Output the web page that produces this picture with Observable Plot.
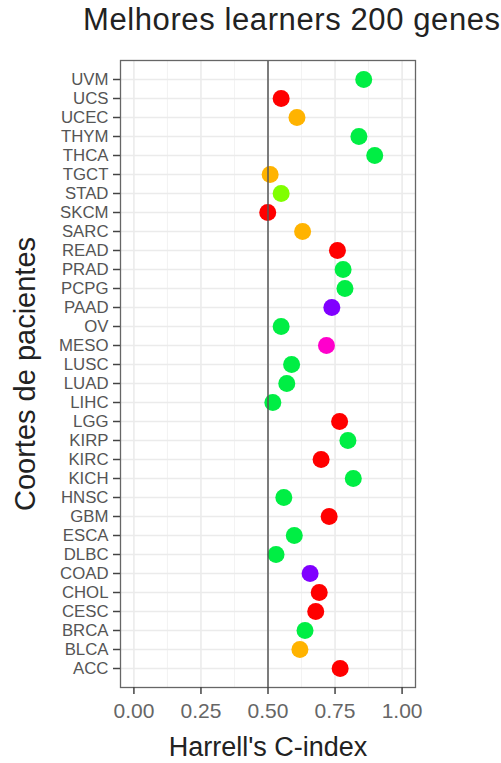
<!DOCTYPE html>
<html><head><meta charset="utf-8">
<script src="https://cdn.jsdelivr.net/npm/d3@7"></script>
<script src="https://cdn.jsdelivr.net/npm/@observablehq/plot@0.6"></script>
<style>
body{margin:0;background:#fff;font-family:"Liberation Sans",Arial,sans-serif;}
#title{height:40px;line-height:40px;font-size:31px;color:#222;padding-left:83px;white-space:nowrap;letter-spacing:0.6px;}
</style></head><body>
<div id="title">Melhores learners 200 genes</div>
<div id="chart"></div>
<script>
const cohorts = ["UVM","UCS","UCEC","THYM","THCA","TGCT","STAD","SKCM","SARC","READ","PRAD","PCPG","PAAD","OV","MESO","LUSC","LUAD","LIHC","LGG","KIRP","KIRC","KICH","HNSC","GBM","ESCA","DLBC","COAD","CHOL","CESC","BRCA","BLCA","ACC"];
const cindex = [0.857,0.549,0.608,0.839,0.898,0.508,0.549,0.499,0.629,0.759,0.780,0.787,0.738,0.549,0.718,0.588,0.570,0.518,0.767,0.798,0.698,0.818,0.559,0.728,0.598,0.530,0.657,0.691,0.678,0.638,0.619,0.769];
const learnerGroup = ["verde","vermelho","laranja","verde","verde","laranja","lima","vermelho","laranja","vermelho","verde","verde","roxo","verde","magenta","verde","verde","verde","vermelho","verde","vermelho","verde","verde","vermelho","verde","verde","roxo","vermelho","vermelho","verde","laranja","vermelho"];
const groupDomain = ["vermelho","laranja","lima","verde","roxo","magenta"];
const groupColors = ["#FF0000","#FFB300","#80FF00","#00EE44","#8000FF","#FF00CC"];
const xTicks = [0, 0.25, 0.5, 0.75, 1];
const xTickLabels = ["0.00","0.25","0.50","0.75","1.00"];
const xMinor = [0.125, 0.375, 0.625, 0.875];
const refLine = [0.5];
const xTitle = "Harrell's C-index";
const yTitle = "Coortes de pacientes";

const data = cohorts.map((c, i) => ({cohort: c, cindex: cindex[i], group: learnerGroup[i]}));

const plot = Plot.plot({
  width: 501, height: 723,
  marginTop: 20, marginBottom: 76, marginLeft: 120, marginRight: 86,
  style: {fontFamily: "Liberation Sans, Arial, sans-serif", background: "#fff"},
  x: {domain: [-0.05, 1.05]},
  y: {type: "point", domain: cohorts, padding: 0.6},
  color: {domain: groupDomain, range: groupColors},
  marks: [
    Plot.ruleX(xMinor, {stroke: "#F3F3F3", strokeWidth: 1}),
    Plot.ruleX(xTicks, {stroke: "#EBEBEB", strokeWidth: 1.6}),
    Plot.ruleY(cohorts, {y: d => d, stroke: "#EBEBEB", strokeWidth: 1.6}),
    Plot.dot(data, {x: "cindex", y: "cohort", fill: "group", r: 8.5}),
    Plot.ruleX(refLine, {stroke: "#555", strokeOpacity: 0.75, strokeWidth: 2}),
    Plot.frame({stroke: "#666", strokeWidth: 1.3}),
    Plot.axisX({ticks: xTicks, tickFormat: d => xTickLabels[xTicks.indexOf(d)], tickSize: 7, tickPadding: 9, fontSize: 21, fill: "#666", stroke: "#444", strokeWidth: 1.5, label: null}),
    Plot.axisY({tickSize: 7, tickPadding: 5, fontSize: 16.8, fill: "#555", stroke: "#444", strokeWidth: 1.5, label: null}),
    Plot.text([xTitle], {text: d => d, frameAnchor: "bottom", textAnchor: "middle", lineAnchor: "bottom", dy: 68, fontSize: 27, fill: "#222"}),
    Plot.text([yTitle], {text: d => d, frameAnchor: "left", textAnchor: "middle", rotate: -90, lineAnchor: "bottom", dx: -86, fontSize: 29, fill: "#222"})
  ]
});
document.getElementById("chart").appendChild(plot);
</script>
</body></html>
